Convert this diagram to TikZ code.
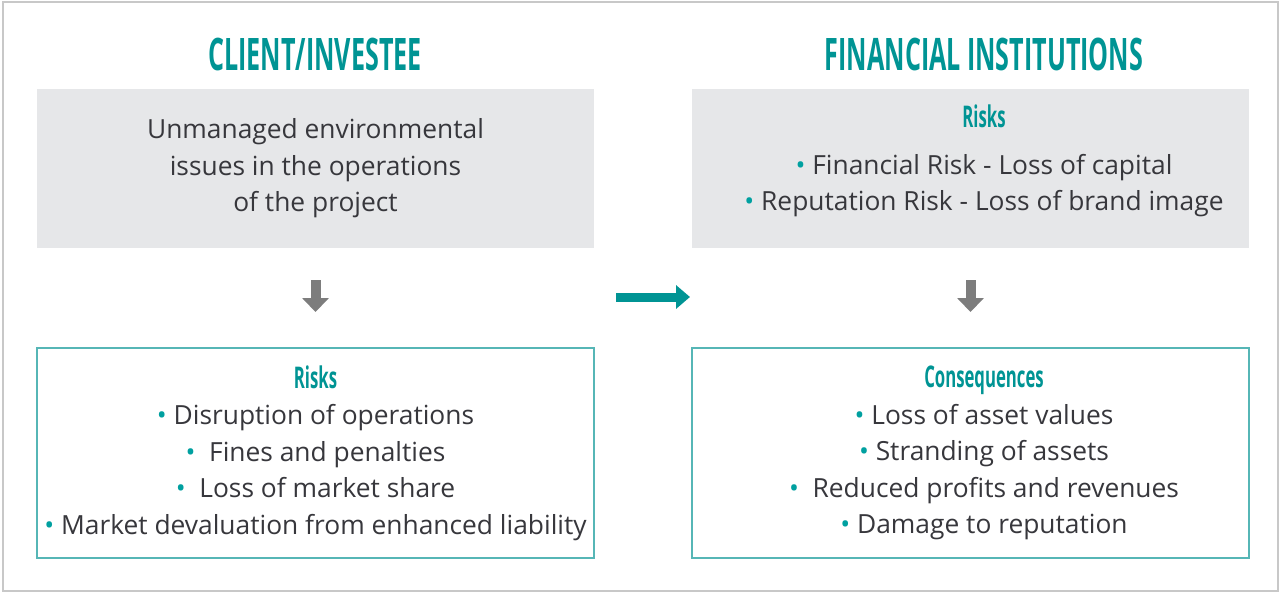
\documentclass[tikz,border=0pt]{standalone}
\usepackage{fontspec}
\usepackage{graphicx}
\setmainfont{Open Sans}
\usepackage{xcolor}
\definecolor{ifcteal}{RGB}{0,148,148}
\definecolor{ifcline}{RGB}{86,182,182}
\definecolor{ifcdot}{RGB}{0,160,160}
\definecolor{ifcgrey}{RGB}{230,231,233}
\definecolor{ifctext}{RGB}{55,55,60}
\definecolor{ifcarrow}{RGB}{125,125,125}
\definecolor{ifcframe}{RGB}{200,200,200}
\usetikzlibrary{arrows.meta, positioning}

\newcommand{\headtext}[1]{\scalebox{0.56}[1]{\bfseries #1}}
\newcommand{\boxhead}[1]{\textcolor{ifcteal}{\fontsize{17pt}{18pt}\selectfont\headtext{#1}}}
\newcommand{\bul}{\textcolor{ifcdot}{\textbullet}~}

\begin{document}
\begin{tikzpicture}[x=0.02cm, y=-0.02cm,
    title/.style={font=\fontsize{25.5pt}{28pt}\selectfont, text=ifcteal, inner sep=0pt},
    body/.style={font=\fontsize{15pt}{20.8pt}\selectfont, text=ifctext, align=center, inner sep=0pt},
    greybox/.style={body, fill=ifcgrey, minimum width=11.14cm, minimum height=3.18cm},
    tealbox/.style={body, draw=ifcline, line width=0.04cm, fill=white,
                    minimum width=11.14cm, minimum height=4.2cm},
    downarrow/.style={ifcarrow, line width=0.2cm,
                      -{Triangle[width=0.52cm, length=0.28cm]}},
    sidearrow/.style={ifcteal, line width=0.18cm,
                      -{Triangle[width=0.46cm, length=0.28cm]}}]
  \useasboundingbox (0,0) rectangle (1281,595);

  % Frame
  \draw[ifcframe, line width=0.04cm] (3,2) rectangle (1278,591);

  % Client / investee column
  \node[title] (clienttitle) at (315,54) {\headtext{CLIENT/INVESTEE}};
  \node[greybox] (issues) at (315.5,168.5) {%
    Unmanaged environmental\\issues in the operations\\of the project};
  \node[tealbox] (clientrisks) at (315.5,453) {%
    \boxhead{Risks}\\
    \bul Disruption of operations\\
    \bul\ Fines and penalties\\
    \bul\ Loss of market share\\
    \bul Market devaluation from enhanced liability};
  \draw[downarrow, shorten <=0.64cm, shorten >=0.7cm] (issues) -- (clientrisks);

  % Financial institutions column
  \node[title] (fititle) at (984,54) {\headtext{FINANCIAL INSTITUTIONS}};
  \node[greybox] (firisks) at (970.5,168.5) {};
  \node[body] (firiskstext) at (984,161) {%
    \boxhead{Risks}\\[6pt]
    \bul Financial Risk - Loss of capital\\
    \bul Reputation Risk - Loss of brand image};
  \node[tealbox] (ficons) at (970.5,453) {};
  \node[body] (ficonstext) at (984,453) {%
    \boxhead{Consequences}\\
    \bul Loss of asset values\\
    \bul Stranding of assets\\
    \bul\ Reduced profits and revenues\\
    \bul Damage to reputation};
  \draw[downarrow, shorten <=0.64cm, shorten >=0.7cm] (firisks) -- (ficons);

  % Link between the columns
  \coordinate (linkstart) at (616,297);
  \coordinate (linkend) at (690,297);
  \draw[sidearrow] (linkstart) -- (linkend);
\end{tikzpicture}
\end{document}
